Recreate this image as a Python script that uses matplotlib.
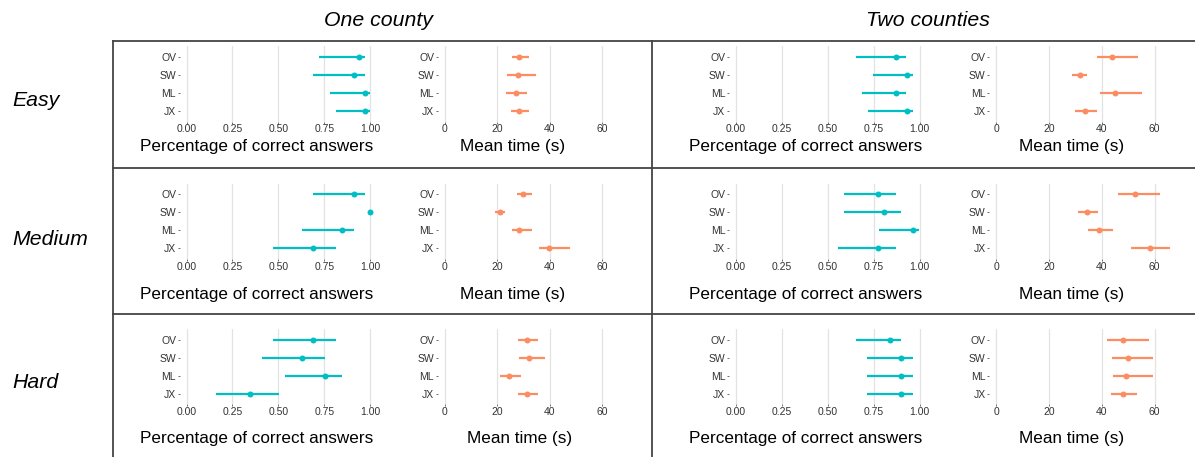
import numpy as np
import matplotlib
matplotlib.use("Agg")
import matplotlib.pyplot as plt
from matplotlib.lines import Line2D

plt.rcParams['font.family'] = ['Liberation Sans', 'DejaVu Sans']

# =============================================================================
# DATA
# =============================================================================

regions = ["OV", "SW", "ML", "JX"]
difficulties = ["Easy", "Medium", "Hard"]
settings = ["One county", "Two counties"]

# Easy - one county
acc_easy_one = [0.94, 0.91, 0.97, 0.97]
acc_easy_one_lo = [0.72, 0.69, 0.78, 0.815]
acc_easy_one_hi = [0.97, 0.97, 1.00, 1.00]
time_easy_one = [28.5, 27.9, 27.0, 28.4]
time_easy_one_lo = [25.5, 23.8, 23.3, 25.2]
time_easy_one_hi = [32.1, 34.8, 31.5, 32.1]

# Easy - two counties
acc_easy_two = [0.87, 0.93, 0.87, 0.93]
acc_easy_two_lo = [0.655, 0.748, 0.684, 0.72]
acc_easy_two_hi = [0.928, 0.962, 0.928, 0.962]
time_easy_two = [44.0, 31.8, 45.0, 33.6]
time_easy_two_lo = [38.1, 28.6, 39.4, 29.8]
time_easy_two_hi = [53.6, 34.5, 55.1, 38.2]

# Medium - one county
acc_medium_one = [0.91, 1.00, 0.847, 0.69]
acc_medium_one_lo = [0.689, 1.00, 0.626, 0.472]
acc_medium_one_hi = [0.972, 1.00, 0.909, 0.815]
time_medium_one = [29.7, 21.0, 28.5, 39.8]
time_medium_one_lo = [27.5, 19.3, 25.5, 35.8]
time_medium_one_hi = [33.2, 22.9, 33.4, 47.7]

# Medium - two counties
acc_medium_two = [0.776, 0.808, 0.962, 0.776]
acc_medium_two_lo = [0.589, 0.589, 0.778, 0.557]
acc_medium_two_hi = [0.87, 0.90, 0.994, 0.87]
time_medium_two = [52.5, 34.3, 39.0, 58.2]
time_medium_two_lo = [46.0, 30.9, 34.8, 51.2]
time_medium_two_hi = [62.1, 38.5, 44.2, 65.6]

# Hard - one county
acc_hard_one = [0.69, 0.628, 0.753, 0.347]
acc_hard_one_lo = [0.472, 0.409, 0.534, 0.16]
acc_hard_one_hi = [0.815, 0.753, 0.845, 0.504]
time_hard_one = [31.2, 32.2, 24.4, 31.5]
time_hard_one_lo = [27.9, 28.5, 21.1, 27.9]
time_hard_one_hi = [35.4, 38.1, 29.2, 35.4]

# Hard - two counties
acc_hard_two = [0.838, 0.90, 0.90, 0.90]
acc_hard_two_lo = [0.655, 0.714, 0.714, 0.714]
acc_hard_two_hi = [0.90, 0.962, 0.962, 0.962]
time_hard_two = [48.2, 49.9, 49.2, 48.2]
time_hard_two_lo = [42.0, 43.7, 44.4, 43.3]
time_hard_two_hi = [57.8, 59.5, 59.3, 53.2]

acc_ticks = [0.00, 0.25, 0.50, 0.75, 1.00]
acc_ticklabels = ["0.00", "0.25", "0.50", "0.75", "1.00"]
time_ticks = [0, 20, 40, 60]

# lookup table (row, col) -> series
panels = {
    (0, 0): (acc_easy_one, acc_easy_one_lo, acc_easy_one_hi, time_easy_one, time_easy_one_lo, time_easy_one_hi),
    (0, 1): (acc_easy_two, acc_easy_two_lo, acc_easy_two_hi, time_easy_two, time_easy_two_lo, time_easy_two_hi),
    (1, 0): (acc_medium_one, acc_medium_one_lo, acc_medium_one_hi, time_medium_one, time_medium_one_lo, time_medium_one_hi),
    (1, 1): (acc_medium_two, acc_medium_two_lo, acc_medium_two_hi, time_medium_two, time_medium_two_lo, time_medium_two_hi),
    (2, 0): (acc_hard_one, acc_hard_one_lo, acc_hard_one_hi, time_hard_one, time_hard_one_lo, time_hard_one_hi),
    (2, 1): (acc_hard_two, acc_hard_two_lo, acc_hard_two_hi, time_hard_two, time_hard_two_lo, time_hard_two_hi),
}

# =============================================================================
# LAYOUT (pixels)
# =============================================================================

W, H = 1195, 457
TEAL = "#00BFC4"
ORANGE = "#FC8D62"
BORDER = "#444444"

row_top = [45.8, 183.5, 328.7]
row_bottom = [121.9, 259.3, 404.3]
row_label_y = [100, 240, 383]
xlabel_y = [147, 294, 439]

acc_lim = (-0.038, 1.038)
time_lim = (-2.66, 68)
# (pixel of value 0, pixels per unit) per column
acc_scale = [(186.5, 183.8), (735.7, 184.0)]
time_scale = [(444.5, 2.63), (996.0, 2.645)]

acc_label_x = [257, 805.5]
time_label_x = [[513, 1072], [513, 1072], [520, 1072]]

fig = plt.figure(figsize=(W / 100, H / 100), dpi=100)


def px_axes(left, top, right, bottom):
    return fig.add_axes([left / W, 1 - bottom / H, (right - left) / W, (bottom - top) / H])


def style_axis(ax, ticks, ticklabels, lim):
    ax.set_xlim(*lim)
    ax.set_ylim(3.6, -0.6)
    ax.set_xticks(ticks)
    ax.set_xticklabels(ticklabels)
    ax.set_yticks(range(len(regions)))
    ax.set_yticklabels(regions)
    for s in ax.spines.values():
        s.set_visible(False)
    ax.grid(True, axis="x", color="#E3E3E3", lw=0.9)
    ax.set_axisbelow(True)
    ax.tick_params(axis="y", length=1.8, width=0.6, pad=0.7, color="#555555",
                   labelsize=7.5, labelcolor="#333333")
    ax.tick_params(axis="x", length=1.2, width=0.6, pad=0.5, color="#555555",
                   labelsize=7.5, labelcolor="#333333")
    ax.patch.set_alpha(0)


y = np.arange(len(regions))

for (r, c), (am, alo, ahi, tm, tlo, thi) in panels.items():
    # accuracy panel
    x0, sc = acc_scale[c]
    ax = px_axes(x0 + acc_lim[0] * sc, row_top[r], x0 + acc_lim[1] * sc, row_bottom[r])
    style_axis(ax, acc_ticks, acc_ticklabels, acc_lim)
    ax.hlines(y, alo, ahi, color=TEAL, lw=1.6)
    ax.plot(am, y, "o", color=TEAL, ms=4.3, mec="none")

    # time panel
    x0, sc = time_scale[c]
    ax = px_axes(x0 + time_lim[0] * sc, row_top[r], x0 + time_lim[1] * sc, row_bottom[r])
    style_axis(ax, time_ticks, [str(t) for t in time_ticks], time_lim)
    ax.hlines(y, tlo, thi, color=ORANGE, lw=1.6)
    ax.plot(tm, y, "o", color=ORANGE, ms=4.3, mec="none")

    fig.text(acc_label_x[c] / W, 1 - xlabel_y[r] / H, "Percentage of correct answers",
             ha="center", va="center", fontsize=12.3)
    fig.text(time_label_x[r][c] / W, 1 - xlabel_y[r] / H, "Mean time (s)",
             ha="center", va="center", fontsize=12.3)

# column and row titles
for title, xc in zip(settings, [378, 928]):
    fig.text(xc / W, 1 - 20 / H, title, ha="center", va="center", fontsize=15.3, style="italic")
for lab, yc in zip(difficulties, row_label_y):
    fig.text(12 / W, 1 - yc / H, lab, ha="left", va="center", fontsize=15.3, style="italic")

# facet borders


def hline_px(yp, x1, x2):
    fig.add_artist(Line2D([x1 / W, x2 / W], [1 - yp / H, 1 - yp / H],
                          transform=fig.transFigure, color=BORDER, lw=1.3))


def vline_px(xp, y1, y2):
    fig.add_artist(Line2D([xp / W, xp / W], [1 - y1 / H, 1 - y2 / H],
                          transform=fig.transFigure, color=BORDER, lw=1.3))


hline_px(41, 113, W)
hline_px(168.3, 113, W)
hline_px(314, 113, W)
vline_px(113, 41, H)
vline_px(652.3, 41, H)

fig.savefig("out.png", dpi=100)
